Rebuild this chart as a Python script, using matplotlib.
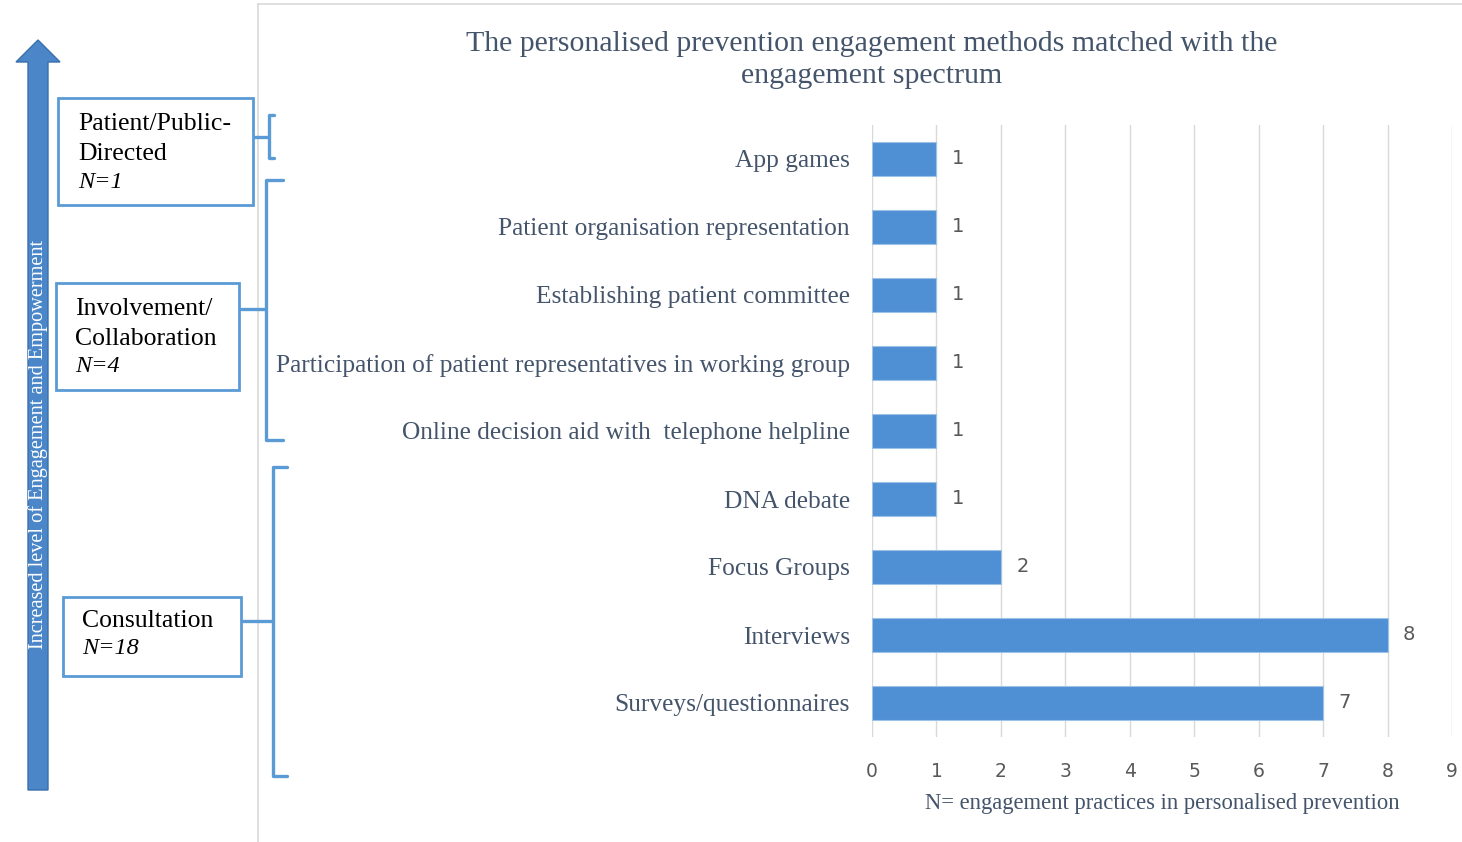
import matplotlib.pyplot as plt
from matplotlib.patches import Rectangle, FancyArrow
from matplotlib.lines import Line2D

# data
methods = ["App games", "Patient organisation representation", "Establishing patient committee",
           "Participation of patient representatives in working group",
           "Online decision aid with  telephone helpline", "DNA debate", "Focus Groups",
           "Interviews", "Surveys/questionnaires"]
counts = [1, 1, 1, 1, 1, 1, 2, 8, 7]
xticks = list(range(0, 10))

levels = [["Patient/Public-", "Directed"], ["Involvement/", "Collaboration"], ["Consultation"]]
level_n = ["N=1", "N=4", "N=18"]

blue = "#5B9BD5"
textc = "#44546A"
serif = "Liberation Serif"

fig = plt.figure(figsize=(14.62, 8.42), dpi=100)

# background layer in pixel coords for the diagram on the left
bg = fig.add_axes([0, 0, 1, 1])
bg.set_xlim(0, 1462)
bg.set_ylim(842, 0)
bg.axis("off")

# chart frame
bg.add_line(Line2D([258, 258], [4, 842], color="#D9D9D9", lw=1.2))
bg.add_line(Line2D([258, 1462], [4, 4], color="#D9D9D9", lw=1.2))

# big arrow
bg.add_patch(FancyArrow(38, 790, 0, -750, width=20, head_width=44, head_length=22,
                        length_includes_head=True, color="#4A86C8", ec="#3A70AD", lw=1))
bg.text(38, 444, "Increased level of Engagement and Empowerment", rotation=90,
        ha="center", va="center", color="white", fontsize=14.6, family=serif)

# boxes with level names
boxes = [(58, 98, 195, 107), (56, 283, 183, 107), (63, 597, 178, 79)]
text_pos = [(78, 124), (75, 309), (82, 621)]
for (x, y, w, h), (tx, ty), lines, n in zip(boxes, text_pos, levels, level_n):
    bg.add_patch(Rectangle((x, y), w, h, fill=False, ec=blue, lw=2))
    for k, line in enumerate(lines):
        bg.text(tx, ty + 30 * k, line, ha="left", va="center", fontsize=18.5,
                family=serif, color="black")
    bg.text(tx, ty + 30 * len(lines) - 2, n, ha="left", va="center", fontsize=17.5,
            family=serif, style="italic", color="black")

# brackets: (box right, connector y, bracket x, top, bottom, hook length)
brackets = [(253, 137, 269, 115, 158, 5),
            (239, 309, 266, 180, 440, 17),
            (241, 621, 273, 467, 776, 14)]
for bx, cy, x, top, bot, hook in brackets:
    bg.plot([bx, x], [cy, cy], color=blue, lw=2.4, solid_capstyle="butt")
    bg.plot([x + hook, x, x, x + hook], [top, top, bot, bot], color=blue, lw=2.4,
            solid_joinstyle="round", solid_capstyle="round")

# bar chart
ax = fig.add_axes([872 / 1462, 105 / 842, 580 / 1462, 612 / 842])
ypos = list(range(len(methods)))
bars = ax.barh(ypos, counts, height=0.5, color="#4F8FD4", edgecolor="#9DC3E6", lw=0.8, zorder=3)
ax.bar_label(bars, padding=11, fontsize=14, color="#595959", family="DejaVu Sans")
ax.set_ylim(len(methods) - 0.5, -0.5)
ax.set_xlim(0, 9)
ax.set_xticks(xticks)
ax.set_yticks(ypos)
ax.set_yticklabels(methods, family=serif, fontsize=18.3, color=textc)
ax.tick_params(axis="y", length=0, pad=16)
ax.tick_params(axis="x", length=0, pad=18, labelsize=13.5, labelcolor="#595959")
ax.grid(axis="x", color="#D9D9D9", lw=1, zorder=0)
for s in ax.spines.values():
    s.set_visible(False)
ax.set_xlabel("N= engagement practices in personalised prevention", family=serif,
              fontsize=16.3, color=textc, labelpad=9)

fig.text(872 / 1462, 1 - 60 / 842,
         "The personalised prevention engagement methods matched with the\nengagement spectrum",
         ha="center", va="center", family=serif, fontsize=21.5, color=textc, linespacing=1.3)

fig.savefig("out.png", dpi=100)
